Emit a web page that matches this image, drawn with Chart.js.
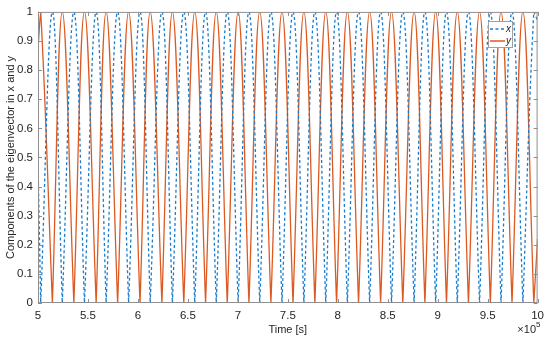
<!DOCTYPE html>
<html>
<head>
<meta charset="utf-8">
<script src="https://cdn.jsdelivr.net/npm/chart.js@4"></script>
<style>
  html, body { margin: 0; padding: 0; background: #fff; }
  #wrap { width: 550px; height: 341px; }
</style>
</head>
<body>
<div id="wrap"><canvas id="chart" width="550" height="341"></canvas></div>
<script>
// time axis in units of 1e5 s
const xTicks = [5, 5.5, 6, 6.5, 7, 7.5, 8, 8.5, 9, 9.5, 10];
const yTicks = [0, 0.1, 0.2, 0.3, 0.4, 0.5, 0.6, 0.7, 0.8, 0.9, 1];

// times where |y| reaches 1 (and |x| drops to 0)
const yPeaks = [5.027, 5.243, 5.465, 5.682, 5.907, 6.123, 6.345, 6.569, 6.784, 7.003,
                7.219, 7.442, 7.661, 7.880, 8.096, 8.319, 8.538, 8.764, 8.980, 9.196,
                9.419, 9.634, 9.853];
// times where |y| drops to 0 (and |x| reaches 1)
const yZeros = [5.144, 5.359, 5.582, 5.797, 6.021, 6.240, 6.459, 6.677, 6.894, 7.111,
                7.331, 7.552, 7.771, 7.988, 8.208, 8.429, 8.651, 8.872, 9.088, 9.308,
                9.527, 9.744, 9.962];
// values at the two ends of the window
const yEnds = [0.87, 0.22];
const xEnds = [0.49, 0.97];

const blue = '#1a7dcc';
const orange = '#dc5a22';
const textColor = '#262626';
const boxColor = '#8f8f8f';
const fontFamily = '"Liberation Sans", Arial, sans-serif';

// zeros are pushed twice so the spline leaves a sharp V there
function buildSeries(highs, lows, ends) {
    const pts = [{x: 5, y: ends[0]}];
    const all = highs.map(t => ({t, v: 1})).concat(lows.map(t => ({t, v: 0})));
    all.sort((a, b) => a.t - b.t);
    all.forEach(p => {
        pts.push({x: p.t, y: p.v});
        if (p.v === 0) pts.push({x: p.t, y: p.v});
    });
    pts.push({x: 10, y: ends[1]});
    return pts;
}

const ySeries = buildSeries(yPeaks, yZeros, yEnds);
const xSeries = buildSeries(yZeros, yPeaks, xEnds);

const boxPlugin = {
    id: 'box',
    afterDraw(chart) {
        const ctx = chart.ctx;
        const a = chart.chartArea;
        const xs = chart.scales.x, ys = chart.scales.y;
        ctx.save();
        ctx.strokeStyle = boxColor;
        ctx.lineWidth = 1;
        ctx.strokeRect(a.left + 0.5, a.top + 0.5, a.right - a.left - 1, a.bottom - a.top - 1);
        // inward ticks on all four sides
        ctx.beginPath();
        xTicks.forEach(v => {
            const px = Math.round(xs.getPixelForValue(v)) + 0.5;
            ctx.moveTo(px, a.bottom); ctx.lineTo(px, a.bottom - 4);
            ctx.moveTo(px, a.top); ctx.lineTo(px, a.top + 4);
        });
        yTicks.forEach(v => {
            const py = Math.round(ys.getPixelForValue(v)) + 0.5;
            ctx.moveTo(a.left, py); ctx.lineTo(a.left + 4, py);
            ctx.moveTo(a.right, py); ctx.lineTo(a.right - 4, py);
        });
        ctx.stroke();

        // exponent label
        ctx.fillStyle = textColor;
        ctx.font = '11px ' + fontFamily;
        ctx.textAlign = 'right';
        ctx.textBaseline = 'alphabetic';
        ctx.fillText('\u00d710', 536, 333);
        ctx.font = '8px ' + fontFamily;
        ctx.textAlign = 'left';
        ctx.fillText('5', 536, 327);

        // legend box inside the plot, top right
        const lx = 488, ly = 21, lw = 24, lh = 26;
        ctx.fillStyle = '#fff';
        ctx.fillRect(lx, ly, lw, lh);
        ctx.strokeStyle = '#a0a0a0';
        ctx.lineWidth = 1;
        ctx.strokeRect(lx + 0.5, ly + 0.5, lw, lh);
        chart.data.datasets.forEach((ds, i) => {
            const yy = ly + 8 + i * 12;
            ctx.strokeStyle = ds.borderColor;
            ctx.lineWidth = 1.5;
            ctx.setLineDash(ds.borderDash || []);
            ctx.beginPath();
            ctx.moveTo(lx + 2, yy);
            ctx.lineTo(lx + 17, yy);
            ctx.stroke();
            ctx.setLineDash([]);
            ctx.fillStyle = textColor;
            ctx.font = 'italic 10px ' + fontFamily;
            ctx.textAlign = 'left';
            ctx.textBaseline = 'middle';
            ctx.fillText(ds.label, lx + 18, yy);
        });
        ctx.restore();
    }
};

new Chart(document.getElementById('chart').getContext('2d'), {
    type: 'line',
    data: {
        datasets: [
            {
                label: 'x',
                data: xSeries,
                borderColor: blue,
                borderWidth: 1.3,
                borderDash: [3, 2.5],
                pointRadius: 0,
                tension: 0.4,
                fill: false
            },
            {
                label: 'y',
                data: ySeries,
                borderColor: orange,
                borderWidth: 1.3,
                pointRadius: 0,
                tension: 0.4,
                fill: false
            }
        ]
    },
    options: {
        responsive: false,
        animation: false,
        events: [],
        layout: { padding: { top: 11, right: 10, left: 0, bottom: 0 } },
        plugins: { legend: { display: false }, tooltip: { enabled: false } },
        scales: {
            x: {
                type: 'linear',
                min: 5, max: 10,
                afterFit: s => { s.height = 38; },
                afterBuildTicks: s => { s.ticks = xTicks.map(v => ({value: v})); },
                grid: { display: false, drawTicks: false },
                border: { display: false },
                ticks: {
                    padding: 6,
                    color: textColor,
                    font: { family: fontFamily, size: 11.5 },
                    maxRotation: 0,
                    callback: v => String(v)
                },
                title: {
                    display: true,
                    text: 'Time [s]',
                    color: textColor,
                    padding: { top: 0 },
                    font: { family: fontFamily, size: 11 }
                }
            },
            y: {
                min: 0, max: 1,
                afterFit: s => { s.width = 38; },
                afterBuildTicks: s => { s.ticks = yTicks.map(v => ({value: v})); },
                grid: { display: false, drawTicks: false },
                border: { display: false },
                ticks: {
                    padding: 5,
                    color: textColor,
                    font: { family: fontFamily, size: 11.5 },
                    callback: v => String(Math.round(v * 10) / 10)
                },
                title: {
                    display: true,
                    text: 'Components of the eigenvector in x and y',
                    color: textColor,
                    padding: { bottom: 0, top: 4 },
                    font: { family: fontFamily, size: 11 }
                }
            }
        }
    },
    plugins: [boxPlugin]
});
</script>
</body>
</html>
